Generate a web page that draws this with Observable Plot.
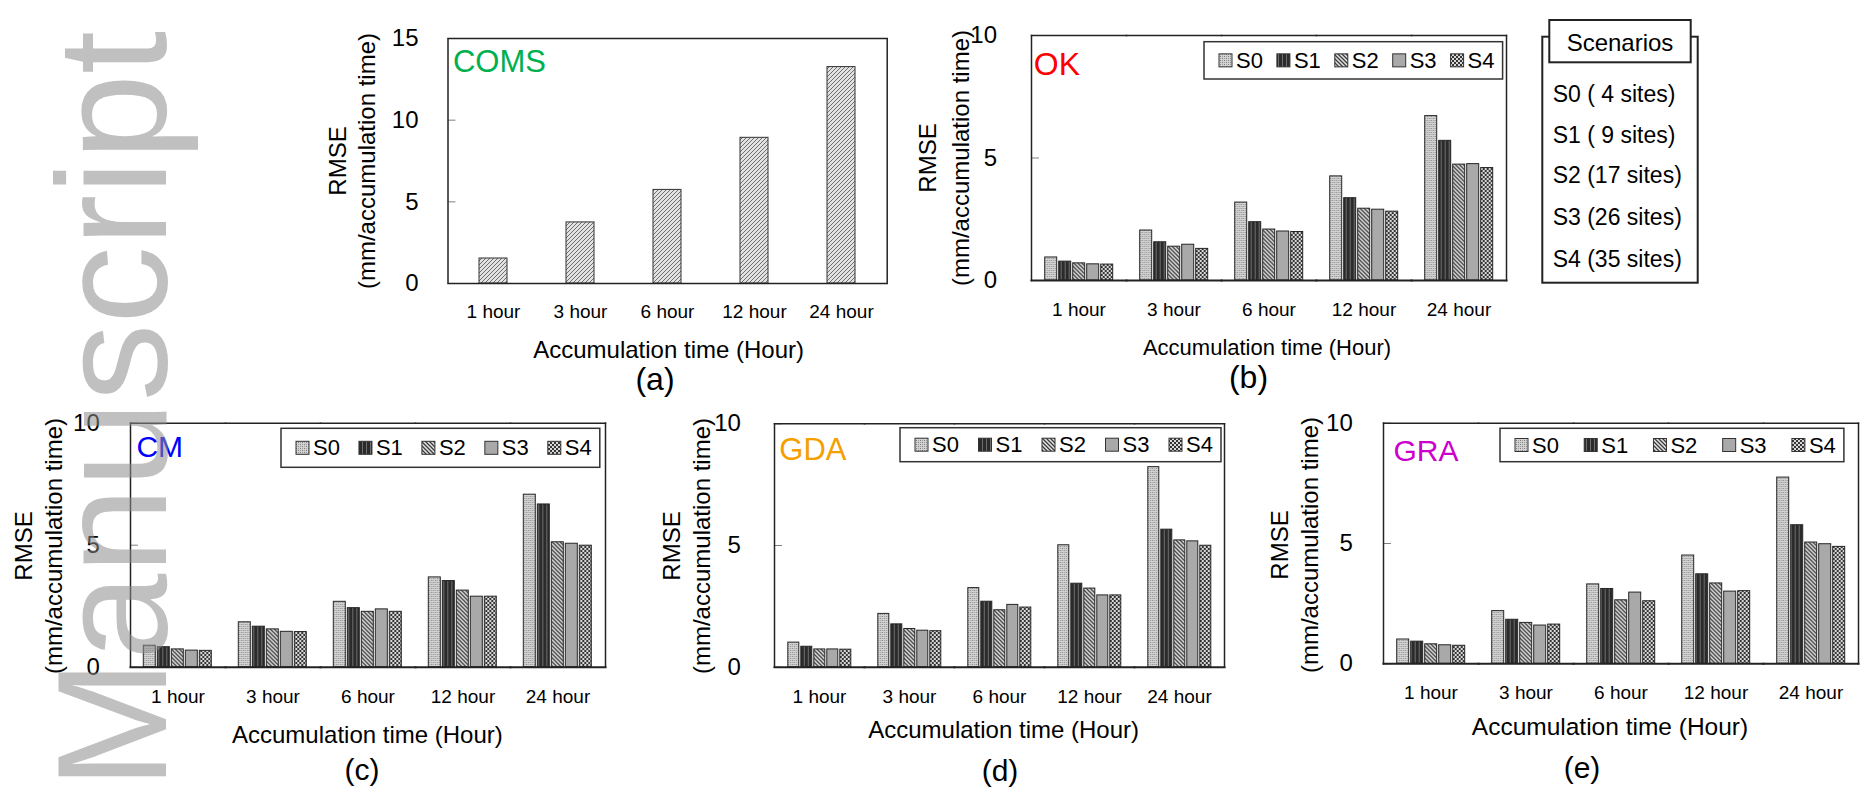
<!DOCTYPE html>
<html><head><meta charset="utf-8">
<script src="https://cdn.jsdelivr.net/npm/d3@7"></script>
<script src="https://cdn.jsdelivr.net/npm/@observablehq/plot@0.6"></script>
<style>
html,body{margin:0;padding:0;background:#fff;}
#root{position:relative;width:1865px;height:803px;overflow:hidden;background:#fff;font-family:'Liberation Sans',Arial,Helvetica,sans-serif;}
</style></head><body>
<svg id="defs" width="0" height="0" style="position:absolute;left:0;top:0">
<defs>
<pattern id="pS0" patternUnits="userSpaceOnUse" width="4" height="4">
 <rect width="4" height="4" fill="#d2d2d2"/>
 <rect x="0" y="0" width="1" height="1" fill="#808080"/>
 <rect x="2" y="2" width="1" height="1" fill="#808080"/>
 <rect x="2" y="0" width="1" height="1" fill="#a0a0a0"/>
 <rect x="0" y="2" width="1" height="1" fill="#a0a0a0"/>
</pattern>
<pattern id="pS1" patternUnits="userSpaceOnUse" width="4" height="4">
 <rect width="4" height="4" fill="#2b2b2b"/>
 <rect x="2" y="0" width="1" height="4" fill="#6e6e6e"/>
</pattern>
<pattern id="pS2" patternUnits="userSpaceOnUse" width="4" height="4">
 <rect width="4" height="4" fill="#e4e4e4"/>
 <path d="M-1,-1L5,5M-1,3L1,5M3,-1L5,1" stroke="#3a3a3a" stroke-width="1.3"/>
</pattern>
<pattern id="pS4" patternUnits="userSpaceOnUse" width="4" height="4">
 <rect width="4" height="4" fill="#d8d8d8"/>
 <rect width="2" height="2" fill="#353535"/>
 <rect x="2" y="2" width="2" height="2" fill="#353535"/>
</pattern>
<pattern id="pC" patternUnits="userSpaceOnUse" width="4" height="4">
 <rect width="4" height="4" fill="#e2e2e2"/>
 <path d="M-1,5L5,-1M-1,1L1,-1M3,5L5,3" stroke="#6e6e6e" stroke-width="1"/>
</pattern>
</defs>
</svg>
<div id="root"></div>
<script>
// ---------- data ----------
const categories = ["1 hour", "3 hour", "6 hour", "12 hour", "24 hour"];
const scenarios = ["S0", "S1", "S2", "S3", "S4"];
const scenarioSites = ["S0 ( 4 sites)", "S1 ( 9 sites)", "S2 (17 sites)", "S3 (26 sites)", "S4 (35 sites)"];
const yTicks15 = [0, 5, 10, 15];
const yTicks10 = [0, 5, 10];

const comsRMSE = [1.53, 3.74, 5.73, 8.92, 13.25];

// rows: S0..S4, columns: 1, 3, 6, 12, 24 hour
const okRMSE = [
  [0.94, 2.04, 3.18, 4.25, 6.71],
  [0.77, 1.56, 2.38, 3.36, 5.70],
  [0.70, 1.38, 2.08, 2.93, 4.73],
  [0.66, 1.46, 2.00, 2.89, 4.75],
  [0.65, 1.29, 1.98, 2.81, 4.59]
];
const cmRMSE = [
  [0.88, 1.84, 2.68, 3.68, 7.07],
  [0.82, 1.66, 2.42, 3.53, 6.67],
  [0.73, 1.55, 2.27, 3.14, 5.12],
  [0.68, 1.45, 2.37, 2.89, 5.06],
  [0.67, 1.44, 2.27, 2.89, 4.98]
];
const gdaRMSE = [
  [1.01, 2.19, 3.25, 5.01, 8.22],
  [0.84, 1.76, 2.69, 3.43, 5.65],
  [0.73, 1.57, 2.34, 3.23, 5.21],
  [0.73, 1.50, 2.56, 2.95, 5.17],
  [0.72, 1.48, 2.45, 2.95, 4.99]
];
const graRMSE = [
  [1.01, 2.19, 3.30, 4.50, 7.74],
  [0.92, 1.83, 3.11, 3.72, 5.76],
  [0.81, 1.70, 2.64, 3.34, 5.04],
  [0.77, 1.59, 2.96, 3.00, 4.97],
  [0.75, 1.63, 2.60, 3.02, 4.86]
];

// ---------- styling ----------
const FILLS = ["url(#pS0)", "url(#pS1)", "url(#pS2)", "#a9a9a9", "url(#pS4)"];
const FONT = "'Liberation Sans', Arial, Helvetica, sans-serif";
const root = document.getElementById("root");

function place(el, left, top) {
  el.style.position = "absolute";
  el.style.left = left + "px";
  el.style.top = top + "px";
  root.appendChild(el);
}
function toRows(series) {
  return series.flatMap((vals, si) => vals.map((v, ci) => ({cat: categories[ci], scen: scenarios[si], value: v})));
}

// ---------- panel (a) ----------
{
  const rows = categories.map((c, i) => ({cat: c, value: comsRMSE[i]}));
  const svg = Plot.plot({
    width: 600, height: 330,
    marginLeft: 147.5, marginRight: 13.3, marginTop: 38, marginBottom: 47,
    style: {fontFamily: FONT, fontSize: "19px", color: "#000", background: "transparent", overflow: "visible"},
    x: {domain: categories, paddingInner: 0.675, paddingOuter: 0.3375},
    y: {domain: [0, 15]},
    marks: [
      Plot.barY(rows, {x: "cat", y: "value", fill: "url(#pC)", stroke: "#333", strokeWidth: 1}),
      Plot.axisX({tickSize: 0, tickPadding: 21, label: null, fontSize: 19}),
      Plot.axisY({ticks: yTicks15, tickSize: 0, tickPadding: 29.5, label: null, fontSize: 24}),
      Plot.axisY({ticks: yTicks15, tickSize: -8, tickFormat: () => "", label: null, stroke: "#808080"}),
      Plot.frame({stroke: "#222", strokeWidth: 1.5})
    ]
  });
  place(svg, 300, 0);
}

// ---------- grouped panels (b)-(e) ----------
function grouped(p) {
  const data = toRows(p.series);
  const svg = Plot.plot({
    width: p.w, height: p.h,
    marginLeft: p.ml, marginRight: p.mr, marginTop: p.mt, marginBottom: p.mb,
    style: {fontFamily: FONT, fontSize: "19px", color: "#000", background: "transparent", overflow: "visible"},
    fx: {domain: categories, padding: 0},
    x: {domain: scenarios, paddingInner: 0, paddingOuter: 0.85, axis: null},
    y: {domain: [0, 10]},
    color: {domain: scenarios, range: FILLS},
    marks: [
      Plot.barY(data, {fx: "cat", x: "scen", y: "value", fill: "scen", stroke: "#262626", strokeWidth: 1, insetLeft: 1, insetRight: 1}),
      Plot.axisFx({anchor: "bottom", tickSize: 0, tickPadding: 22, label: null, fontSize: 19}),
      Plot.axisY({ticks: yTicks10, tickSize: 0, tickPadding: p.tp, label: null, fontSize: 24}),
      Plot.axisY({ticks: yTicks10, tickSize: -8, tickFormat: () => "", label: null, stroke: "#808080"}),
      Plot.frame({anchor: "top", stroke: "#222", strokeWidth: 1.5}),
      Plot.frame({anchor: "bottom", stroke: "#222", strokeWidth: 2}),
      Plot.frame({anchor: "left", stroke: "#222", strokeWidth: 1.5, fx: () => categories[0]}),
      Plot.frame({anchor: "right", stroke: "#222", strokeWidth: 1.5, fx: () => categories[categories.length - 1]})
    ]
  });
  place(svg, p.left, p.top);
}

grouped({series: okRMSE,  left: 900,  top: 0,   w: 620, h: 330, ml: 128.3, mr: 11.9, mt: 35,   mb: 50,   tp: 34.5});
grouped({series: cmRMSE,  left: 0,    top: 390, w: 620, h: 330, ml: 129.7, mr: 14.2, mt: 32.7, mb: 53.3, tp: 30.7});
grouped({series: gdaRMSE, left: 640,  top: 390, w: 600, h: 330, ml: 132.2, mr: 15,   mt: 33.3, mb: 53.3, tp: 33.6});
grouped({series: graRMSE, left: 1250, top: 390, w: 615, h: 330, ml: 130.3, mr: 5.2,  mt: 32.7, mb: 56.7, tp: 30.7});

// ---------- annotations overlay ----------
const panels = [
  {name: "COMS", color: "#00b050", nx: 452.9, ny: 72,    nfs: 31, rx: 337.5,  mx: 366,    cy: 161, tx: 668.6, ty: 358, tfs: 24, letter: "(a)", lx: 655,  ly: 390, lfs: 32, legend: null},
  {name: "OK",   color: "#ff0000", nx: 1033.8, ny: 75,   nfs: 32, rx: 927.2,  mx: 960.3,  cy: 158, tx: 1267,  ty: 355, tfs: 22, letter: "(b)", lx: 1248.5, ly: 388, lfs: 32, legend: [1204, 41.7, 298.6, 37.3]},
  {name: "CM",   color: "#0000ff", nx: 136.4, ny: 457,   nfs: 30, rx: 23.7,   mx: 53.4,   cy: 546, tx: 367.4, ty: 743, tfs: 24, letter: "(c)", lx: 362,  ly: 780, lfs: 30, legend: [281, 428.3, 318.8, 39]},
  {name: "GDA",  color: "#f5a000", nx: 779.3, ny: 460,   nfs: 31, rx: 671.4,  mx: 701,    cy: 546, tx: 1003.6, ty: 738, tfs: 24, letter: "(d)", lx: 1000, ly: 781, lfs: 30, legend: [900, 427.7, 321, 34]},
  {name: "GRA",  color: "#cc00cc", nx: 1393.5, ny: 460.7, nfs: 30, rx: 1279.9, mx: 1309.8, cy: 545, tx: 1610,  ty: 735, tfs: 24.5, letter: "(e)", lx: 1582, ly: 778, lfs: 30, legend: [1500, 428.3, 343.9, 33.4]}
];

const ov = d3.create("svg")
  .attr("width", 1865).attr("height", 803)
  .attr("font-family", FONT)
  .style("position", "absolute").style("left", "0px").style("top", "0px")
  .style("pointer-events", "none");

for (const p of panels) {
  ov.append("text").attr("x", p.nx).attr("y", p.ny).attr("font-size", p.nfs).attr("fill", p.color).text(p.name);
  ov.append("text").attr("transform", `translate(${p.rx},${p.cy}) rotate(-90)`).attr("text-anchor", "middle")
    .attr("dominant-baseline", "central").attr("font-size", 24).text("RMSE");
  ov.append("text").attr("transform", `translate(${p.mx},${p.cy}) rotate(-90)`).attr("text-anchor", "middle")
    .attr("dominant-baseline", "central").attr("font-size", 24).text("(mm/accumulation time)");
  ov.append("text").attr("x", p.tx).attr("y", p.ty).attr("text-anchor", "middle").attr("font-size", p.tfs).text("Accumulation time (Hour)");
  ov.append("text").attr("x", p.lx).attr("y", p.ly).attr("text-anchor", "middle").attr("font-size", p.lfs).text(p.letter);
  if (p.legend) {
    const [bx, by, bw, bh] = p.legend;
    ov.append("rect").attr("x", bx).attr("y", by).attr("width", bw).attr("height", bh)
      .attr("fill", "#fff").attr("stroke", "#333").attr("stroke-width", 1.5);
    const pad = 15, step = (bw - pad - 52) / (scenarios.length - 1), cyL = by + bh / 2;
    scenarios.forEach((s, i) => {
      const sx = bx + pad + i * step;
      ov.append("rect").attr("x", sx).attr("y", cyL - 6.5).attr("width", 13).attr("height", 13)
        .attr("fill", FILLS[i]).attr("stroke", "#333").attr("stroke-width", 1);
      ov.append("text").attr("x", sx + 17).attr("y", cyL).attr("dominant-baseline", "central")
        .attr("font-size", 22).text(s);
    });
  }
}

// Scenarios box
ov.append("rect").attr("x", 1542.3).attr("y", 36.7).attr("width", 155.4).attr("height", 246)
  .attr("fill", "#fff").attr("stroke", "#222").attr("stroke-width", 2);
ov.append("rect").attr("x", 1549.3).attr("y", 20).attr("width", 141.4).attr("height", 42.3)
  .attr("fill", "#fff").attr("stroke", "#222").attr("stroke-width", 2);
ov.append("text").attr("x", 1620).attr("y", 51).attr("text-anchor", "middle").attr("font-size", 24).text("Scenarios");
const siteBaselines = [101.7, 143.3, 182.7, 225, 266.7];
scenarioSites.forEach((t, i) => {
  ov.append("text").attr("x", 1552.7).attr("y", siteBaselines[i]).attr("font-size", 23).text(t);
});

// watermark
ov.append("text").attr("transform", "translate(166,789) rotate(-90)").attr("font-size", 155)
  .attr("fill", "rgba(140,140,140,0.55)").text("Manuscript");

root.appendChild(ov.node());
</script>
</body></html>
